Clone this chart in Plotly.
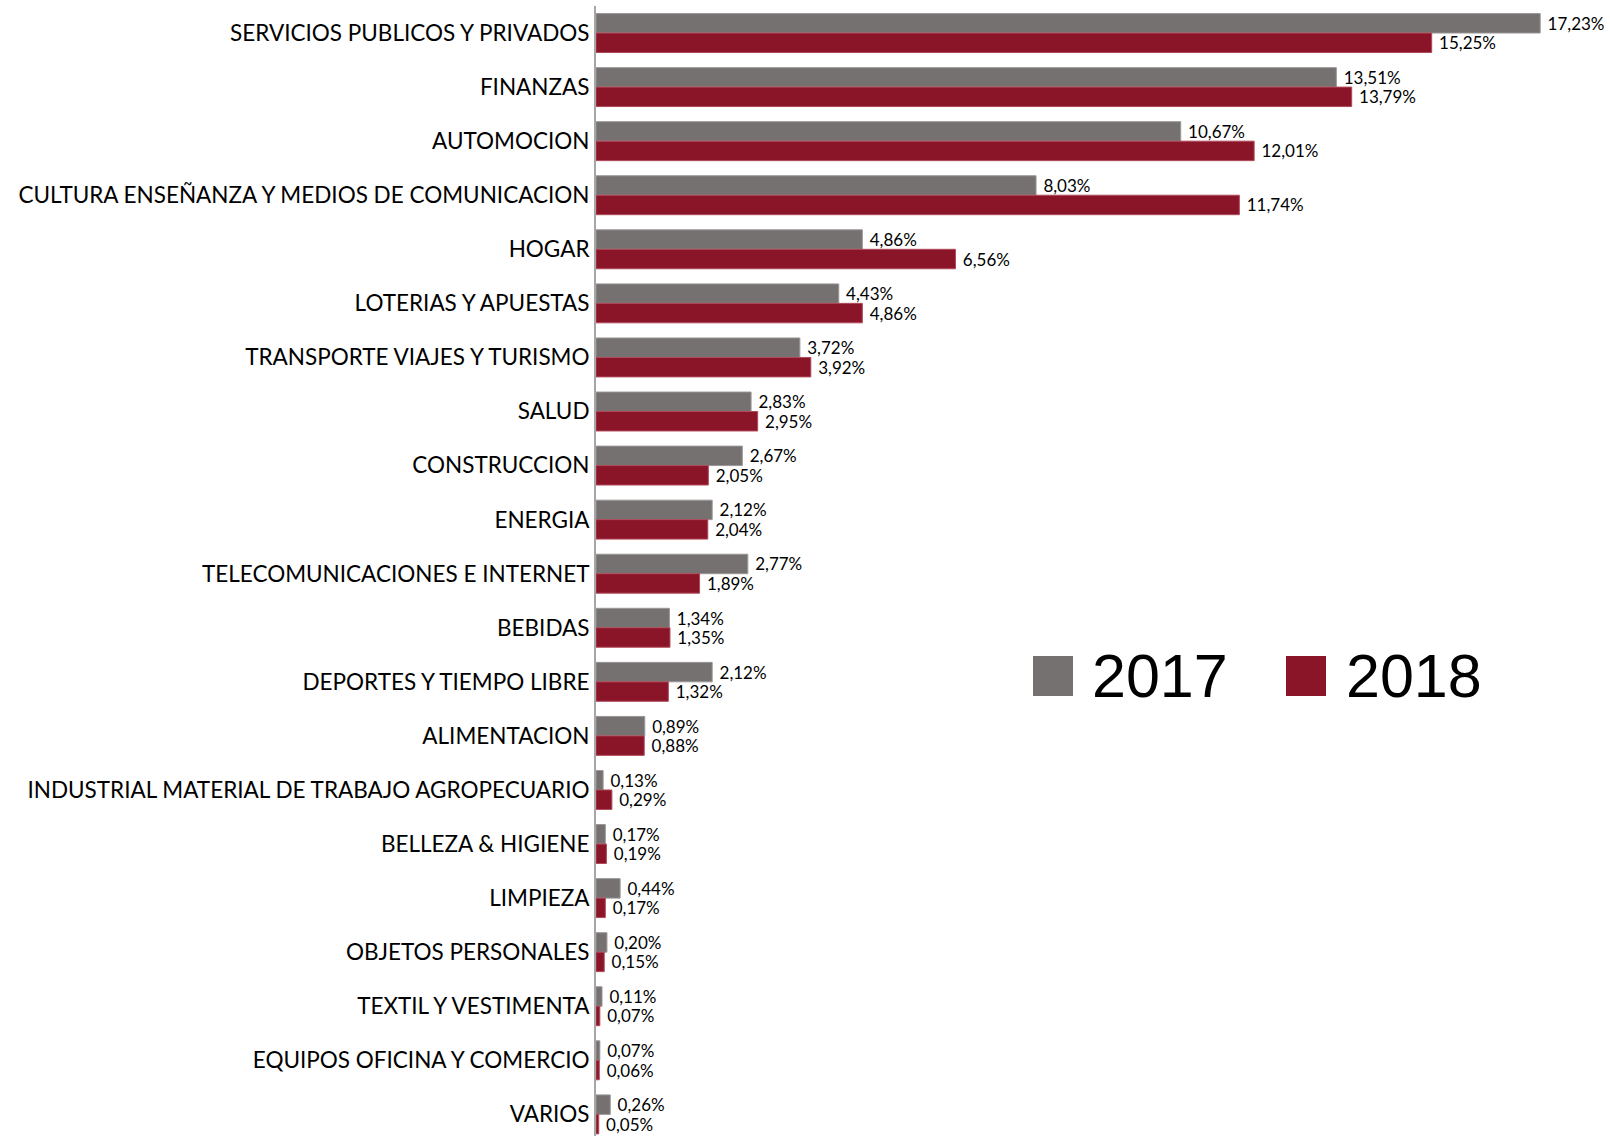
import plotly.graph_objects as go

categories = [
    "SERVICIOS PUBLICOS Y PRIVADOS", "FINANZAS", "AUTOMOCION",
    "CULTURA ENSEÑANZA Y MEDIOS DE COMUNICACION", "HOGAR", "LOTERIAS Y APUESTAS",
    "TRANSPORTE VIAJES Y TURISMO", "SALUD", "CONSTRUCCION", "ENERGIA",
    "TELECOMUNICACIONES E INTERNET", "BEBIDAS", "DEPORTES Y TIEMPO LIBRE",
    "ALIMENTACION", "INDUSTRIAL MATERIAL DE TRABAJO AGROPECUARIO", "BELLEZA & HIGIENE",
    "LIMPIEZA", "OBJETOS PERSONALES", "TEXTIL Y VESTIMENTA",
    "EQUIPOS OFICINA Y COMERCIO", "VARIOS",
]
values_2017 = [17.23, 13.51, 10.67, 8.03, 4.86, 4.43, 3.72, 2.83, 2.67, 2.12, 2.77,
               1.34, 2.12, 0.89, 0.13, 0.17, 0.44, 0.20, 0.11, 0.07, 0.26]
values_2018 = [15.25, 13.79, 12.01, 11.74, 6.56, 4.86, 3.92, 2.95, 2.05, 2.04, 1.89,
               1.35, 1.32, 0.88, 0.29, 0.19, 0.17, 0.15, 0.07, 0.06, 0.05]
series_names = ["2017", "2018"]
colors = ["#767171", "#8B1528"]
edge_colors = ["#9a9696", "#b04a5a"]

W, H = 1610, 1136
ML, MR, MT, MB = 596, 0, 6, 0
PW, PH = W - ML - MR, H - MT - MB

fig = go.Figure()
for name, vals, col, ec in zip(series_names, [values_2017, values_2018], colors, edge_colors):
    fig.add_trace(go.Bar(
        y=categories, x=vals, name=name, orientation="h",
        marker=dict(color=col, line=dict(color=ec, width=1)),
        texttemplate="\u00a0%{x:.2f}%", textposition="outside",
        constraintext="none", cliponaxis=False,
        textfont=dict(family="Lato", size=17, color="#000000"),
        showlegend=False,
    ))

def px_x(x):
    return (x - ML) / PW

def px_y(y):
    return (H - MB - y) / PH

# custom legend
legend_items = [(1033, 1093), (1286, 1347)]
shapes = []
annotations = []
for (sx, tx), name, col in zip(legend_items, series_names, colors):
    shapes.append(dict(type="rect", xref="paper", yref="paper",
                       x0=px_x(sx), x1=px_x(sx + 40), y0=px_y(696), y1=px_y(656),
                       fillcolor=col, line=dict(width=0)))
    annotations.append(dict(xref="paper", yref="paper", x=px_x(tx - 3), y=px_y(676),
                            xanchor="left", yanchor="middle", text=name, showarrow=False,
                            font=dict(family="Liberation Sans", size=61, color="#000000")))

fig.update_layout(
    width=W, height=H,
    margin=dict(l=ML, r=MR, t=MT, b=MB, autoexpand=False),
    barmode="group", bargap=0.28, bargroupgap=0,
    plot_bgcolor="white", paper_bgcolor="white",
    separators=",.",
    shapes=shapes, annotations=annotations,
    xaxis=dict(range=[0, PW / 54.8], visible=False, showgrid=False, zeroline=False,
               automargin=False),
    yaxis=dict(
        range=[20.4, -0.5], showgrid=False, zeroline=False, automargin=False,
        showline=True, linecolor="#A6A6A6", linewidth=2,
        ticks="", ticklabelstandoff=0,
        tickfont=dict(family="Lato", size=22.5, color="#000000"),
    ),
)

fig.write_html(
    "out.html",
    config={"displayModeBar": False},
    post_script="document.body.style.margin='0';document.body.style.overflow='hidden';",
)
